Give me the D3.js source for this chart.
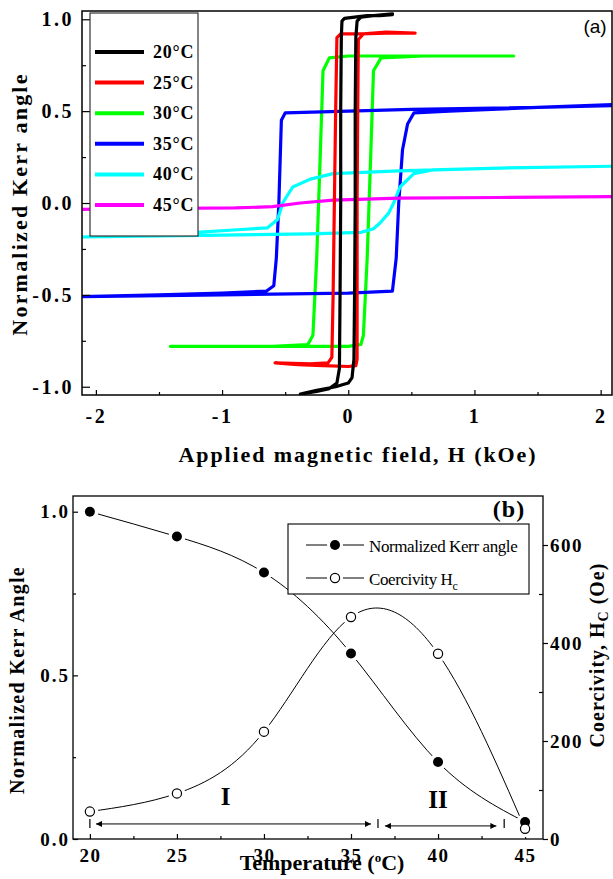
<!DOCTYPE html>
<html><head><meta charset="utf-8">
<script src="https://cdn.jsdelivr.net/npm/d3@7"></script>
<style>body{margin:0;background:#fff}svg{display:block}</style>
</head><body>
<svg id="c" width="613" height="879"></svg>
<script>
// ---------- Data: panel (a) hysteresis loops [H (kOe), normalized Kerr angle] ----------
const loopLabels = ["20°C", "25°C", "30°C", "35°C", "40°C", "45°C"];
const loopColors = ["#000000", "#ff0000", "#00ff00", "#0000ff", "#00ffff", "#ff00ff"];
const loop20 = [[0.35,1.025],[0.25,1.02],[0.15,1.02],[0.05,1.012],[-0.03,1.005],[-0.05,0.99],[-0.055,0.9],[-0.06,0.5],[-0.06,0],[-0.065,-0.5],[-0.07,-0.9],[-0.09,-0.98],[-0.15,-1.01],[-0.25,-1.025],[-0.38,-1.04],
  [-0.25,-1.02],[-0.1,-1.0],[0.0,-0.98],[0.03,-0.95],[0.045,-0.85],[0.05,-0.5],[0.055,0],[0.055,0.5],[0.06,0.9],[0.07,0.99],[0.1,1.012],[0.2,1.02],[0.35,1.03]];
const loop25 = [[0.53,0.925],[0.3,0.925],[0.1,0.92],[-0.06,0.92],[-0.09,0.9],[-0.1,0.5],[-0.11,0],[-0.12,-0.5],[-0.13,-0.84],[-0.16,-0.87],[-0.3,-0.875],[-0.58,-0.87],
  [-0.4,-0.88],[-0.2,-0.885],[0.0,-0.89],[0.06,-0.885],[0.07,-0.85],[0.07,-0.5],[0.07,0],[0.075,0.5],[0.08,0.89],[0.12,0.92],[0.3,0.93],[0.53,0.925]];
const loop30 = [[1.31,0.80],[0.8,0.80],[0.3,0.80],[0.0,0.80],[-0.15,0.79],[-0.2,0.72],[-0.22,0.3],[-0.25,-0.3],[-0.28,-0.72],[-0.32,-0.77],[-0.6,-0.78],[-1.0,-0.78],[-1.41,-0.78],
  [-0.6,-0.78],[0.0,-0.78],[0.1,-0.77],[0.12,-0.72],[0.15,-0.3],[0.18,0.3],[0.2,0.72],[0.26,0.79],[0.6,0.80],[1.31,0.80]];
const loop35 = [[2.09,0.53],[1.5,0.52],[0.5,0.51],[0.0,0.50],[-0.5,0.49],[-0.53,0.45],[-0.55,0],[-0.57,-0.3],[-0.59,-0.45],[-0.65,-0.48],[-1.0,-0.49],[-1.5,-0.50],[-2.11,-0.51],
  [-1.0,-0.50],[0.0,-0.49],[0.35,-0.48],[0.38,-0.3],[0.40,0.0],[0.43,0.29],[0.47,0.43],[0.52,0.49],[0.8,0.50],[1.5,0.52],[2.09,0.535]];
const loop40 = [[2.09,0.20],[1.2,0.19],[0.4,0.175],[-0.12,0.16],[-0.3,0.13],[-0.44,0.087],[-0.52,0.0],[-0.56,-0.09],[-0.64,-0.135],[-0.91,-0.147],[-1.17,-0.158],[-1.6,-0.17],[-2.11,-0.185],
  [-1.0,-0.175],[-0.3,-0.168],[0.1,-0.16],[0.2,-0.14],[0.25,-0.11],[0.32,-0.055],[0.36,0.0],[0.41,0.087],[0.52,0.16],[0.67,0.18],[1.2,0.19],[2.09,0.20]];
const loop45 = [[-2.11,-0.035],[-1.5,-0.03],[-0.9,-0.027],[-0.6,-0.02],[-0.38,0.0],[-0.12,0.016],[0.4,0.027],[1.2,0.03],[2.09,0.035]];
const loops = [loop20, loop25, loop30, loop35, loop40, loop45];
const drawOrder = [2, 3, 4, 5, 1, 0];
const xTicksA = [-2, -1, 0, 1, 2];
const xMinorA = [-1.5, -0.5, 0.5, 1.5];
const yTicksA = [-1, -0.5, 0, 0.5, 1];
const yMinorA = [-0.75, -0.25, 0.25, 0.75];

// ---------- Data: panel (b) ----------
const temperature = [20, 25, 30, 35, 40, 45];
const kerrAngle = [1.0, 0.924, 0.814, 0.567, 0.235, 0.052];
const coercivity = [56, 93, 219, 453, 378, 21];
const xTicksB = [20, 25, 30, 35, 40, 45];
const xMinorB = [22.5, 27.5, 32.5, 37.5, 42.5];
const yTicksB = [0, 0.5, 1.0];
const yMinorB = [0.25, 0.75];
const hcTicks = [0, 200, 400, 600];
const hcMinor = [100, 300, 500];
const regionI = [20.35, 36.15];
const regionII = [36.95, 43.35];
const regionMarks = [20, 36.55, 43.8];

const serif = "'Liberation Serif','Times New Roman',serif";
const svg = d3.select("#c");

function styleAxisText(g, size, ls, weight) {
  g.selectAll("text").attr("font-family", serif).attr("font-size", size)
    .attr("font-weight", weight || "bold").attr("fill", "#000").style("letter-spacing", ls + "px");
  g.select(".domain").remove();
  g.selectAll("line").attr("stroke", "#000").attr("stroke-width", 1.2);
}

// ================= Panel (a) =================
const xa = d3.scaleLinear().domain([-2.11, 2.09]).range([82, 612]);
const ya = d3.scaleLinear().domain([-1.045, 1.045]).range([395, 11]);
const [ax0, ax1] = xa.range(), [ay1, ay0] = ya.range();

svg.append("clipPath").attr("id", "clipA").append("rect")
  .attr("x", ax0).attr("y", ay0).attr("width", ax1 - ax0).attr("height", ay1 - ay0);

const lineA = d3.line().x(d => xa(d[0])).y(d => ya(d[1]));
svg.append("g").attr("clip-path", "url(#clipA)")
  .selectAll("path").data(drawOrder).join("path")
  .attr("d", i => lineA(loops[i])).attr("fill", "none")
  .attr("stroke", i => loopColors[i]).attr("stroke-width", 3.2)
  .attr("stroke-linejoin", "round").attr("stroke-linecap", "round");

// axes a
svg.append("g").attr("transform", `translate(${ax0},0)`)
  .call(d3.axisLeft(ya).tickValues(yTicksA).tickSize(-8).tickPadding(8).tickFormat(d => d.toFixed(1)))
  .call(g => styleAxisText(g, 20, 2.5));
svg.append("g").attr("transform", `translate(${ax0},0)`)
  .call(d3.axisLeft(ya).tickValues(yMinorA).tickSize(-4).tickFormat(""))
  .call(g => styleAxisText(g, 10, 0));
svg.append("g").attr("transform", `translate(0,${ay1})`)
  .call(d3.axisBottom(xa).tickValues(xTicksA).tickSize(-5).tickPadding(14).tickFormat(d => String(d)))
  .call(g => styleAxisText(g, 20, 2.5));
svg.append("g").attr("transform", `translate(0,${ay1})`)
  .call(d3.axisBottom(xa).tickValues(xMinorA).tickSize(-3).tickFormat(""))
  .call(g => styleAxisText(g, 10, 0));
svg.append("rect").attr("x", ax0).attr("y", ay0).attr("width", ax1 - ax0).attr("height", ay1 - ay0)
  .attr("fill", "none").attr("stroke", "#000").attr("stroke-width", 1.5);

// legend a
const legA = svg.append("g");
legA.append("rect").attr("x", 90).attr("y", 13).attr("width", 108).attr("height", 223)
  .attr("fill", "#fff").attr("stroke", "#333").attr("stroke-width", 1.2);
loopLabels.forEach((lab, i) => {
  const yy = 52 + i * 30.6;
  legA.append("line").attr("x1", 95).attr("x2", 144).attr("y1", yy).attr("y2", yy)
    .attr("stroke", loopColors[i]).attr("stroke-width", 4);
  legA.append("text").attr("x", 153).attr("y", yy + 6).text(lab)
    .attr("font-family", serif).attr("font-weight", "bold").attr("font-size", 18).style("letter-spacing", "0.8px");
});

// titles a
svg.append("text").attr("transform", "translate(27,204) rotate(-90)").attr("text-anchor", "middle")
  .attr("font-family", serif).attr("font-weight", "bold").attr("font-size", 22).style("letter-spacing", "2.2px")
  .text("Normalized Kerr angle");
svg.append("text").attr("x", 358).attr("y", 462).attr("text-anchor", "middle")
  .attr("font-family", serif).attr("font-weight", "bold").attr("font-size", 22).style("letter-spacing", "1.9px")
  .text("Applied magnetic field, H (kOe)");
svg.append("text").attr("x", 595).attr("y", 33).attr("text-anchor", "middle")
  .attr("font-family", "'Liberation Sans',Arial,sans-serif").attr("font-size", 19).text("(a)");

// ================= Panel (b) =================
const xb = d3.scaleLinear().domain([19.03, 46.03]).range([73, 543]);
const yb = d3.scaleLinear().domain([0, 1.048]).range([839, 496]);
const yh = d3.scaleLinear().domain([0, 700]).range([839, 496]);
const [bx0, bx1] = xb.range(), [by1, by0] = yb.range();

svg.append("g").attr("transform", `translate(${bx0},0)`)
  .call(d3.axisLeft(yb).tickValues(yTicksB).tickSize(-5).tickPadding(3).tickFormat(d => d.toFixed(1)))
  .call(g => styleAxisText(g, 19, 2));
svg.append("g").attr("transform", `translate(${bx0},0)`)
  .call(d3.axisLeft(yb).tickValues(yMinorB).tickSize(-3).tickFormat(""))
  .call(g => styleAxisText(g, 10, 0));
svg.append("g").attr("transform", `translate(0,${by1})`)
  .call(d3.axisBottom(xb).tickValues(xTicksB).tickSize(-5).tickPadding(10).tickFormat(d => String(d)))
  .call(g => styleAxisText(g, 19, 1.5));
svg.append("g").attr("transform", `translate(0,${by1})`)
  .call(d3.axisBottom(xb).tickValues(xMinorB).tickSize(-3).tickFormat(""))
  .call(g => styleAxisText(g, 10, 0));
svg.append("g").attr("transform", `translate(${bx1},0)`)
  .call(d3.axisRight(yh).tickValues(hcTicks).tickSize(5).tickPadding(2).tickFormat(d => String(d)))
  .call(g => styleAxisText(g, 19, 1.5));
svg.append("g").attr("transform", `translate(${bx1},0)`)
  .call(d3.axisRight(yh).tickValues(hcMinor).tickSize(-4).tickFormat(""))
  .call(g => styleAxisText(g, 10, 0));
svg.append("rect").attr("x", bx0).attr("y", by0).attr("width", bx1 - bx0).attr("height", by1 - by0)
  .attr("fill", "none").attr("stroke", "#000").attr("stroke-width", 1.3);

const kerrPts = temperature.map((t, i) => [xb(t), yb(kerrAngle[i])]);
const hcPts = temperature.map((t, i) => [xb(t), yh(coercivity[i])]);
const curve = d3.line().curve(d3.curveNatural);
svg.append("path").attr("d", curve(kerrPts)).attr("fill", "none").attr("stroke", "#000").attr("stroke-width", 1);
svg.append("path").attr("d", curve(hcPts)).attr("fill", "none").attr("stroke", "#000").attr("stroke-width", 1);

// white gaps around symbols
svg.append("g").selectAll("circle").data(kerrPts.concat(hcPts)).join("circle")
  .attr("cx", d => d[0]).attr("cy", d => d[1]).attr("r", 8.5).attr("fill", "#fff");
svg.append("g").selectAll("circle").data(kerrPts).join("circle")
  .attr("cx", d => d[0]).attr("cy", d => d[1]).attr("r", 5).attr("fill", "#000");
svg.append("g").selectAll("circle").data(hcPts).join("circle")
  .attr("cx", d => d[0]).attr("cy", d => d[1]).attr("r", 4.6).attr("fill", "#fff")
  .attr("stroke", "#000").attr("stroke-width", 1.2);

// region arrows
const defs = svg.append("defs");
["s", "e"].forEach(k => {
  defs.append("marker").attr("id", "arr" + k).attr("viewBox", "0 0 10 10")
    .attr("refX", k === "e" ? 10 : 0).attr("refY", 5).attr("markerWidth", 9).attr("markerHeight", 6)
    .attr("markerUnits", "userSpaceOnUse").attr("orient", "auto")
    .append("path").attr("d", k === "e" ? "M0,0L10,5L0,10Z" : "M10,0L0,5L10,10Z").attr("fill", "#000");
});
[[regionI, 0.046], [regionII, 0.04]].forEach(([r, yv]) => {
  svg.append("line").attr("x1", xb(r[0])).attr("x2", xb(r[1])).attr("y1", yb(yv)).attr("y2", yb(yv))
    .attr("stroke", "#000").attr("stroke-width", 1)
    .attr("marker-start", "url(#arrs)").attr("marker-end", "url(#arre)");
});
svg.append("g").selectAll("line").data(regionMarks).join("line")
  .attr("x1", d => xb(d)).attr("x2", d => xb(d)).attr("y1", yb(0.046) - 5).attr("y2", yb(0.046) + 4)
  .attr("stroke", "#000").attr("stroke-width", 1.2);
svg.append("text").attr("x", xb(27.8)).attr("y", 805).attr("text-anchor", "middle")
  .attr("font-family", serif).attr("font-weight", "bold").attr("font-size", 25).text("I");
svg.append("text").attr("x", xb(40)).attr("y", 808).attr("text-anchor", "middle")
  .attr("font-family", serif).attr("font-weight", "bold").attr("font-size", 25).text("II");

// legend b
const legB = svg.append("g");
legB.append("rect").attr("x", 288).attr("y", 524).attr("width", 241).attr("height", 70)
  .attr("fill", "#fff").attr("stroke", "#000").attr("stroke-width", 1.1);
[[545, true, "Normalized Kerr angle"], [578, false, "Coercivity H"]].forEach(([yy, filled, lab]) => {
  legB.append("line").attr("x1", 306).attr("x2", 364).attr("y1", yy).attr("y2", yy).attr("stroke", "#000").attr("stroke-width", 1);
  legB.append("circle").attr("cx", 335).attr("cy", yy).attr("r", 8).attr("fill", "#fff");
  legB.append("circle").attr("cx", 335).attr("cy", yy).attr("r", filled ? 5 : 4.6)
    .attr("fill", filled ? "#000" : "#fff").attr("stroke", "#000").attr("stroke-width", filled ? 0 : 1.2);
  const t = legB.append("text").attr("x", 369).attr("y", yy + 7)
    .attr("font-family", serif).attr("font-size", 17).style("letter-spacing", "-0.4px").text(lab);
  if (!filled) t.append("tspan").attr("dy", 5).attr("font-size", 12).text("c");
});
svg.append("text").attr("x", 509).attr("y", 517).attr("text-anchor", "middle")
  .attr("font-family", serif).attr("font-weight", "bold").attr("font-size", 24).style("letter-spacing", "1px").text("(b)");

// titles b
svg.append("text").attr("transform", "translate(24,680) rotate(-90)").attr("text-anchor", "middle")
  .attr("font-family", serif).attr("font-weight", "bold").attr("font-size", 20).style("letter-spacing", "1.3px")
  .text("Normalized Kerr Angle");
const rt = svg.append("text").attr("transform", "translate(604,655) rotate(-90)").attr("text-anchor", "middle")
  .attr("font-family", serif).attr("font-weight", "bold").attr("font-size", 20).style("letter-spacing", "1px");
rt.append("tspan").text("Coercivity, H");
rt.append("tspan").attr("dy", 4).attr("font-size", 14).text("C");
rt.append("tspan").attr("dy", -4).text(" (Oe)");
const xt = svg.append("text").attr("x", 322).attr("y", 870).attr("text-anchor", "middle")
  .attr("font-family", serif).attr("font-weight", "bold").attr("font-size", 22);
xt.append("tspan").text("Temperature (");
xt.append("tspan").attr("dy", -8).attr("font-size", 13).text("o");
xt.append("tspan").attr("dy", 8).text("C)");
</script>
</body></html>
